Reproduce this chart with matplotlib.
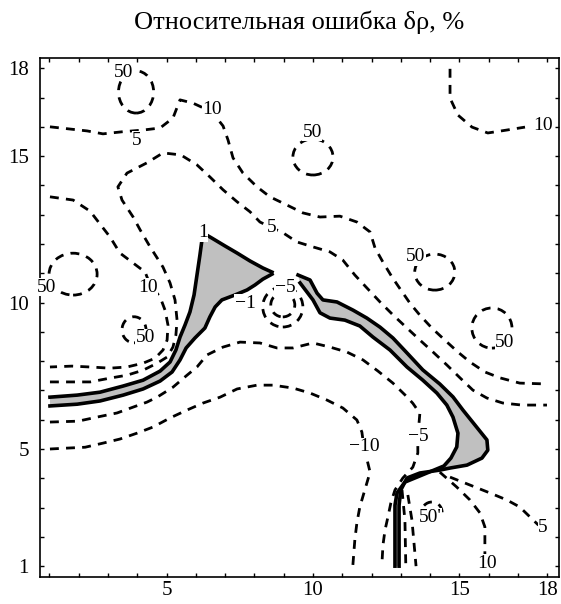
import matplotlib
matplotlib.use('Agg')
import matplotlib.pyplot as plt
from matplotlib.patches import Ellipse
import numpy as np

plt.rcParams['font.family'] = ['Liberation Serif', 'DejaVu Serif']

TITLE = 'Относительная ошибка δρ, %'

# dashed contours (plot units)
c10_top_x = [1.02, 2.29, 2.83, 3.48, 4.20, 4.78, 5.22, 5.46, 5.90, 6.55, 6.93, 7.10, 7.27, 7.61, 8.09, 8.53,
             9.11, 9.66, 10.24, 10.92, 11.50, 11.95, 12.12, 12.39, 12.70, 13.0, 13.31, 13.65, 14.06, 14.50,
             14.95, 15.36, 15.87, 16.38, 17.06, 17.99]
c10_top_y = [16.00, 15.86, 15.76, 15.83, 15.89, 15.96, 16.30, 16.92, 16.81, 16.51, 16.03, 15.55, 14.94, 14.42,
             13.95, 13.61, 13.33, 13.06, 12.92, 12.95, 12.75, 12.41, 11.86, 11.38, 10.87, 10.43, 9.98, 9.57,
             9.13, 8.72, 8.31, 7.97, 7.63, 7.43, 7.25, 7.22]

c5_x = [1.02, 1.71, 2.39, 3.07, 3.65, 4.20, 4.68, 5.02, 5.22, 5.32, 5.36, 5.29, 5.12, 4.88, 4.44, 4.10, 3.86,
        3.48, 3.34, 3.65, 4.33, 4.88, 5.49, 6.04, 6.48, 6.93, 7.41, 7.85, 8.19, 8.60, 8.98, 9.45, 10.00, 10.58,
        11.02, 11.43, 11.84, 12.29, 12.73, 13.21, 13.65, 14.10, 14.57, 15.02, 15.46, 15.94, 16.48, 17.13, 17.99]
c5_y = [7.29, 7.29, 7.29, 7.42, 7.52, 7.69, 7.93, 8.14, 8.48, 8.89, 9.40, 10.09, 10.67, 11.21, 11.90, 12.48,
        12.92, 13.50, 13.95, 14.42, 14.77, 15.11, 15.04, 14.70, 14.29, 13.85, 13.44, 13.10, 12.75, 12.55, 12.38,
        12.07, 11.90, 11.73, 11.45, 10.94, 10.50, 10.02, 9.58, 9.13, 8.72, 8.31, 7.87, 7.43, 7.01, 6.74, 6.57,
        6.50, 6.50]

c10_left_x = [1.02, 1.81, 2.39, 2.73, 3.07, 3.41, 3.82, 4.27, 4.44, 4.78, 4.95, 5.05, 5.02, 4.88, 4.61, 4.20,
              3.65, 3.07, 2.39, 1.77, 1.02]
c10_left_y = [13.61, 13.50, 13.12, 12.68, 12.24, 11.69, 11.38, 11.04, 10.60, 10.19, 9.74, 9.23, 8.72, 8.38,
              8.10, 7.93, 7.80, 7.76, 7.80, 7.83, 7.80]

c10_tr_x = [14.68, 14.68, 14.95, 15.43, 15.97, 16.62, 17.24]
c10_tr_y = [17.98, 16.98, 16.40, 15.99, 15.79, 15.89, 15.99]

m5_x = [1.02, 1.98, 2.63, 3.31, 3.86, 4.33, 4.68, 5.22, 5.70, 6.04, 6.38, 6.93, 7.51, 8.19, 8.77, 9.32, 10.00,
        10.58, 11.16, 11.71, 12.22, 12.73, 13.21, 13.41, 13.65, 13.58, 13.58, 13.41, 13.07, 12.80, 12.66, 12.56,
        12.46, 12.39, 12.35]
m5_y = [5.92, 5.95, 6.09, 6.23, 6.43, 6.60, 6.77, 7.11, 7.52, 7.80, 8.21, 8.48, 8.65, 8.62, 8.45, 8.45, 8.62,
        8.48, 8.31, 8.04, 7.66, 7.25, 6.78, 6.56, 6.22, 5.41, 4.86, 4.38, 4.01, 3.60, 3.16, 2.68, 2.23, 1.72, 1.0]

m10_x = [1.02, 1.60, 2.22, 2.83, 3.41, 3.99, 4.54, 5.12, 5.70, 6.25, 6.83, 7.41, 8.09, 8.63, 9.32, 9.90, 10.48,
         11.02, 11.50, 11.67, 11.74, 11.95, 11.77, 11.60, 11.50, 11.43, 11.36]
m10_y = [5.00, 5.03, 5.06, 5.20, 5.34, 5.54, 5.75, 6.06, 6.33, 6.57, 6.77, 7.05, 7.18, 7.18, 7.08, 6.91, 6.67,
         6.40, 5.99, 5.58, 5.07, 4.21, 3.60, 3.02, 2.48, 1.90, 1.0]

b10_x = [14.33, 14.91, 15.36, 15.70, 15.87, 15.87]
b10_y = [4.21, 3.70, 3.26, 2.82, 2.34, 1.30]

b5_x = [14.68, 15.36, 16.04, 16.62, 17.06, 17.41, 17.7]
b5_y = [4.04, 3.77, 3.50, 3.26, 3.02, 2.68, 2.4]

r1_x = [13.04, 13.14, 13.17]
r1_y = [3.60, 2.57, 1.0]
r2_x = [13.24, 13.38, 13.52]
r2_y = [3.43, 2.57, 1.0]

# closed "50" contours: centre, width, height
ring_x = [3.96, 10.0, 1.81, 3.89, 14.16, 16.11, 8.97, 8.97, 14.06]
ring_y = [17.19, 14.97, 10.97, 9.07, 11.04, 9.13, 9.92, 9.85, 2.84]
ring_w = [1.20, 1.37, 1.64, 0.82, 1.37, 1.37, 0.82, 1.37, 0.7]
ring_h = [1.44, 1.23, 1.43, 0.89, 1.23, 1.37, 0.82, 1.37, 0.7]

# band |err| < 1 (grey), left lobe and right branch
lobe_out_x = [1.02, 1.95, 2.73, 3.52, 4.20, 4.78, 5.12, 5.32, 5.46, 5.63, 5.80, 5.94, 6.04, 6.14, 6.21, 6.31,
              6.55, 7.00, 7.41, 7.85, 8.29, 8.60]
lobe_out_y = [6.77, 6.84, 6.94, 7.15, 7.35, 7.66, 7.97, 8.38, 8.82, 9.23, 9.68, 10.26, 10.94, 11.62, 12.14,
              12.34, 12.20, 11.93, 11.69, 11.42, 11.18, 11.04]
lobe_in_x = [1.02, 1.95, 2.73, 3.52, 4.20, 4.78, 5.19, 5.46, 5.67, 5.97, 6.31, 6.48, 6.66, 6.89, 7.34, 7.75,
             8.02, 8.29, 8.60]
lobe_in_y = [6.47, 6.53, 6.64, 6.84, 7.05, 7.32, 7.63, 8.04, 8.45, 8.79, 9.13, 9.51, 9.85, 10.09, 10.26, 10.43,
             10.60, 10.80, 10.97]

arm_out_x = [9.49, 9.90, 10.14, 10.34, 10.82, 11.37, 11.84, 12.29, 12.73, 13.21, 13.75, 14.33, 14.78, 15.12,
             15.53, 15.94, 15.97, 15.77, 15.26, 14.68, 14.33, 13.65, 13.21, 13.00, 12.94, 12.94]
arm_out_y = [10.94, 10.77, 10.32, 10.09, 10.02, 9.74, 9.47, 9.16, 8.79, 8.28, 7.70, 7.22, 6.78, 6.33, 5.82,
             5.31, 4.96, 4.69, 4.45, 4.35, 4.28, 4.18, 4.01, 3.60, 3.08, 1.0]
arm_in_x = [9.56, 10.00, 10.24, 10.58, 11.09, 11.60, 12.05, 12.63, 13.21, 13.75, 14.23, 14.57, 14.78, 14.95,
            14.91, 14.71, 14.47, 13.65, 13.14, 12.87, 12.80, 12.80]
arm_in_y = [10.67, 10.09, 9.65, 9.47, 9.40, 9.20, 8.82, 8.38, 7.80, 7.35, 6.91, 6.50, 6.09, 5.54, 5.07, 4.69,
            4.42, 4.08, 3.87, 3.50, 3.08, 1.0]

label_text = ['50', '5', '10', '50', '10', '50', '10', '50', '1', '5', '−5', '−1', '50', '50', '−10', '−5',
              "50'", '5', '10']
label_x = [3.52, 3.99, 6.55, 9.97, 17.85, 0.89, 4.37, 4.27, 6.25, 8.60, 9.04, 7.68, 13.52, 16.55, 11.74, 13.58,
           13.99, 17.85, 15.94]
label_y = [17.87, 15.55, 16.58, 15.82, 16.06, 10.53, 10.53, 8.79, 12.38, 12.55, 10.53, 9.98, 11.56, 8.65, 5.07,
           5.41, 2.67, 2.31, 1.10]

x_ticklabels = {5: '5', 10: '10', 15: '15', 18: '18'}
y_ticklabels = {1: '1', 5: '5', 10: '10', 15: '15', 18: '18'}

fig = plt.figure(figsize=(5.61, 6.04), dpi=100)
ax = fig.add_axes([0.0713, 0.0452, 0.9251, 0.8583])

dash = (0, (3.2, 2.6))
dkw = dict(color='black', lw=2.0, ls=dash, zorder=2)
for xs, ys in [(c10_top_x, c10_top_y), (c5_x, c5_y), (c10_left_x, c10_left_y), (c10_tr_x, c10_tr_y),
               (m5_x, m5_y), (m10_x, m10_y), (b10_x, b10_y), (b5_x, b5_y), (r1_x, r1_y), (r2_x, r2_y)]:
    ax.plot(xs, ys, **dkw)

for cx, cy, w, h in zip(ring_x, ring_y, ring_w, ring_h):
    ax.add_patch(Ellipse((cx, cy), w, h, fill=False, ec='black', lw=2.0, ls=dash, zorder=2))

grey = '#c0c0c0'
ax.fill(lobe_out_x + lobe_in_x[::-1], lobe_out_y + lobe_in_y[::-1], color=grey, lw=0, zorder=1)
ax.fill(arm_out_x + arm_in_x[::-1], arm_out_y + arm_in_y[::-1], color=grey, lw=0, zorder=1)
for xs, ys in [(lobe_out_x, lobe_out_y), (lobe_in_x, lobe_in_y), (arm_out_x, arm_out_y), (arm_in_x, arm_in_y)]:
    ax.plot(xs, ys, color='black', lw=2.6, solid_joinstyle='round', zorder=3)

for t, x, y in zip(label_text, label_x, label_y):
    ax.text(x, y, t, fontsize=14, ha='center', va='center', zorder=4,
            bbox=dict(facecolor='white', edgecolor='none', pad=0.3))

ax.set_xlim(0.68, 18.40)
ax.set_ylim(0.64, 18.34)
ticks = np.arange(1, 19)
ax.set_xticks(ticks)
ax.set_yticks(ticks)
ax.set_xticklabels([x_ticklabels.get(t, '') for t in ticks])
ax.set_yticklabels([y_ticklabels.get(t, '') for t in ticks])
ax.tick_params(direction='in', length=3, width=1, labelsize=15, top=True, right=True)
ax.tick_params(axis='y', pad=8)
ax.tick_params(axis='x', pad=3)
for s in ax.spines.values():
    s.set_linewidth(1.2)

fig.text(0.533, 1 - 22 / 604, TITLE, fontsize=19, ha='center', va='center')

fig.savefig('out.png', dpi=100)
